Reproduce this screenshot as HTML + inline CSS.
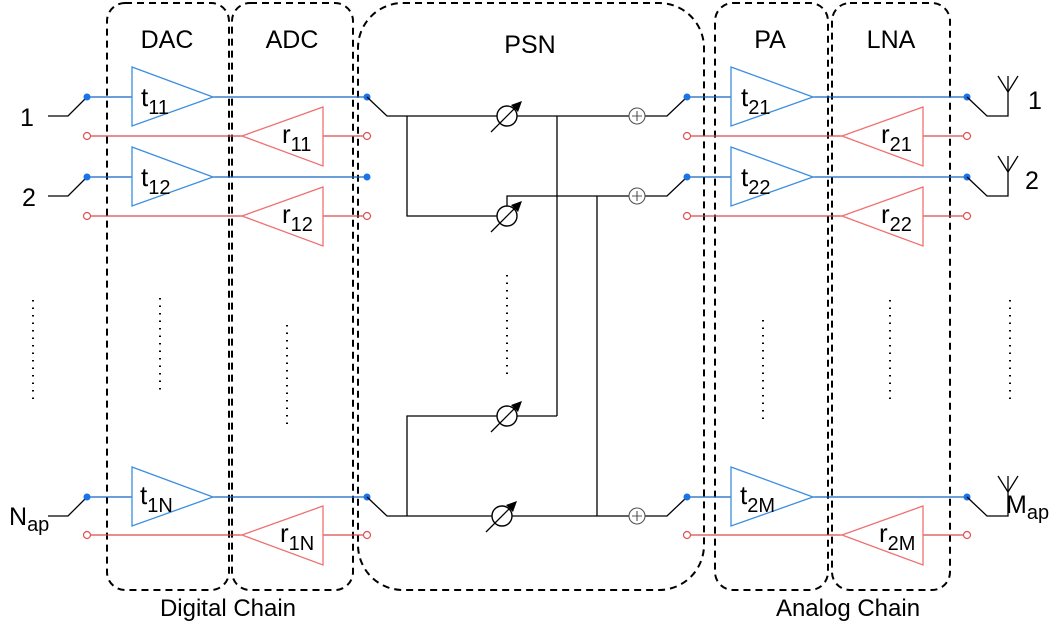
<!DOCTYPE html>
<html><head><meta charset="utf-8"><style>html,body{margin:0;padding:0;background:#fff}svg{display:block}text{font-family:"Liberation Sans",sans-serif}</style></head>
<body>
<svg width="1060" height="624" viewBox="0 0 1060 624" xmlns="http://www.w3.org/2000/svg">
<g fill="none" stroke="#000" stroke-width="2" stroke-dasharray="7,5">
<rect x="107" y="3" width="122" height="587" rx="18"/>
<rect x="232" y="3" width="121" height="587" rx="18"/>
<rect x="358" y="3" width="346" height="587" rx="45"/>
<rect x="715" y="3" width="113" height="587" rx="18"/>
<rect x="832" y="3" width="118" height="587" rx="18"/>
</g>
<g font-size="25" text-anchor="middle">
<text x="167" y="48">DAC</text><text x="292" y="48">ADC</text><text x="530" y="53">PSN</text>
<text x="770" y="48">PA</text><text x="891" y="48">LNA</text>
<text x="228" y="616" font-size="24">Digital Chain</text><text x="848" y="616" font-size="24">Analog Chain</text>
</g>
<g stroke="#000" stroke-width="2" stroke-dasharray="1.5,6">
<line x1="33" y1="300" x2="33" y2="402"/><line x1="160" y1="298" x2="160" y2="392"/>
<line x1="287" y1="325" x2="287" y2="425"/><line x1="507" y1="275" x2="507" y2="378"/>
<line x1="763" y1="320" x2="763" y2="422"/><line x1="890" y1="300" x2="890" y2="402"/>
<line x1="1010" y1="300" x2="1010" y2="402"/>
</g>
<g stroke="#000" stroke-width="1.3" fill="none">
<polyline points="48,116 68,116 87,97"/><polyline points="48,196 68,196 87,177"/>
<polyline points="48,516 68,516 87,497"/>
</g>
<g font-size="25"><text x="20" y="126">1</text><text x="22" y="206">2</text><text x="9" y="525">N<tspan font-size="20" dy="6">ap</tspan></text></g>
<g stroke="#1565c0" stroke-width="1.3"><line x1="87" y1="97" x2="367" y2="97"/><line x1="87" y1="177" x2="367" y2="177"/><line x1="87" y1="497" x2="367" y2="497"/></g>
<g stroke="#d94a4a" stroke-width="1.3"><line x1="91" y1="136" x2="363" y2="136"/><line x1="91" y1="216" x2="363" y2="216"/><line x1="91" y1="535" x2="363" y2="535"/></g>
<g fill="#fff" stroke="#3b8ee0" stroke-width="1.3">
<polygon points="132,67 213,97 132,126"/><polygon points="132,147 213,177 132,206"/><polygon points="132,467 213,497 132,526"/>
</g>
<g fill="#fff" stroke="#ee7070" stroke-width="1.3">
<polygon points="323,107 242,136 323,166"/><polygon points="323,187 242,216 323,246"/><polygon points="323,506 242,535 323,565"/>
</g>
<g fill="#1a73e8"><circle cx="87" cy="97" r="3.5"/><circle cx="87" cy="177" r="3.5"/><circle cx="87" cy="497" r="3.5"/><circle cx="367" cy="97" r="3.5"/><circle cx="367" cy="177" r="3.5"/><circle cx="367" cy="497" r="3.5"/></g>
<g fill="#fff" stroke="#e05050" stroke-width="1.2"><circle cx="87" cy="136" r="3.5"/><circle cx="87" cy="216" r="3.5"/><circle cx="87" cy="535" r="3.5"/><circle cx="367" cy="136" r="3.5"/><circle cx="367" cy="216" r="3.5"/><circle cx="367" cy="535" r="3.5"/></g>
<g font-size="26">
<text x="141" y="106">t<tspan font-size="20" dy="8">11</tspan></text>
<text x="141" y="186">t<tspan font-size="20" dy="8">12</tspan></text>
<text x="140" y="504">t<tspan font-size="20" dy="8">1N</tspan></text>
<text x="282" y="143">r<tspan font-size="20" dy="8">11</tspan></text>
<text x="282" y="223">r<tspan font-size="20" dy="8">12</tspan></text>
<text x="280" y="542">r<tspan font-size="20" dy="8">1N</tspan></text>
</g>
<g stroke="#000" stroke-width="1.3" fill="none">
<polyline points="367,97 387,116 497,116"/><line x1="517" y1="116" x2="629" y2="116"/>
<polyline points="407,116 407,216 497,216"/>
<polyline points="507,206 507,196 629,196"/>
<line x1="557" y1="116" x2="557" y2="416"/><line x1="597" y1="196" x2="597" y2="516"/>
<polyline points="367,497 387,516 492,516"/><line x1="512" y1="516" x2="629" y2="516"/>
<polyline points="497,416 407,416 407,516"/><line x1="517" y1="416" x2="557" y2="416"/>
<polyline points="645,116 667,116 687,97"/><polyline points="645,196 667,196 687,177"/><polyline points="645,516 667,516 687,497"/>
</g>
<g stroke="#000" stroke-width="1.4" fill="#fff">
<circle cx="507" cy="116" r="10"/><circle cx="507" cy="216" r="10"/><circle cx="507" cy="416" r="10"/><circle cx="502" cy="516" r="10"/>
</g>
<g stroke="#000" stroke-width="1.3">
<line x1="491" y1="132" x2="519" y2="104"/><line x1="491" y1="232" x2="519" y2="204"/><line x1="491" y1="432" x2="519" y2="404"/><line x1="486" y1="532" x2="514" y2="504"/>
</g>
<g fill="#000"><polygon points="522,101 511,105 518,112"/><polygon points="522,201 511,205 518,212"/><polygon points="522,401 511,405 518,412"/><polygon points="517,501 506,505 513,512"/></g>
<g stroke="#555" stroke-width="1.1" fill="#fff">
<circle cx="637" cy="116" r="8"/><circle cx="637" cy="196" r="8"/><circle cx="637" cy="516" r="8"/>
</g>
<g stroke="#555" stroke-width="1.1"><path d="M632 116h10M637 111v10M632 196h10M637 191v10M632 516h10M637 511v10"/></g>
<g stroke="#1565c0" stroke-width="1.3"><line x1="687" y1="97" x2="967" y2="97"/><line x1="687" y1="177" x2="967" y2="177"/><line x1="687" y1="497" x2="967" y2="497"/></g>
<g stroke="#d94a4a" stroke-width="1.3"><line x1="691" y1="136" x2="963" y2="136"/><line x1="691" y1="216" x2="963" y2="216"/><line x1="691" y1="535" x2="963" y2="535"/></g>
<g fill="#fff" stroke="#3b8ee0" stroke-width="1.3">
<polygon points="731,67 813,97 731,126"/><polygon points="731,147 813,177 731,206"/><polygon points="731,467 813,497 731,526"/>
</g>
<g fill="#fff" stroke="#ee7070" stroke-width="1.3">
<polygon points="923,107 842,136 923,166"/><polygon points="923,187 842,216 923,246"/><polygon points="923,506 842,535 923,565"/>
</g>
<g fill="#1a73e8"><circle cx="687" cy="97" r="3.5"/><circle cx="687" cy="177" r="3.5"/><circle cx="687" cy="497" r="3.5"/><circle cx="967" cy="97" r="3.5"/><circle cx="967" cy="177" r="3.5"/><circle cx="967" cy="497" r="3.5"/></g>
<g fill="#fff" stroke="#e05050" stroke-width="1.2"><circle cx="687" cy="136" r="3.5"/><circle cx="687" cy="216" r="3.5"/><circle cx="687" cy="535" r="3.5"/><circle cx="967" cy="136" r="3.5"/><circle cx="967" cy="216" r="3.5"/><circle cx="967" cy="535" r="3.5"/></g>
<g font-size="26">
<text x="741" y="106">t<tspan font-size="20" dy="8">21</tspan></text>
<text x="741" y="186">t<tspan font-size="20" dy="8">22</tspan></text>
<text x="740" y="504">t<tspan font-size="20" dy="8">2M</tspan></text>
<text x="881" y="143">r<tspan font-size="20" dy="8">21</tspan></text>
<text x="881" y="223">r<tspan font-size="20" dy="8">22</tspan></text>
<text x="879" y="542">r<tspan font-size="20" dy="8">2M</tspan></text>
</g>
<g stroke="#000" stroke-width="1.3" fill="none">
<polyline points="967,97 987,116 1008,116 1008,76"/><polyline points="998,76 1008,92 1018,76"/>
<polyline points="967,177 987,196 1008,196 1008,156"/><polyline points="998,156 1008,172 1018,156"/>
<polyline points="967,497 987,516 1008,516 1008,476"/><polyline points="998,476 1008,492 1018,476"/>
</g>
<g font-size="25"><text x="1028" y="109">1</text><text x="1025" y="189">2</text><text x="1006" y="513">M<tspan font-size="20" dy="6">ap</tspan></text></g>
</svg>
</body></html>
